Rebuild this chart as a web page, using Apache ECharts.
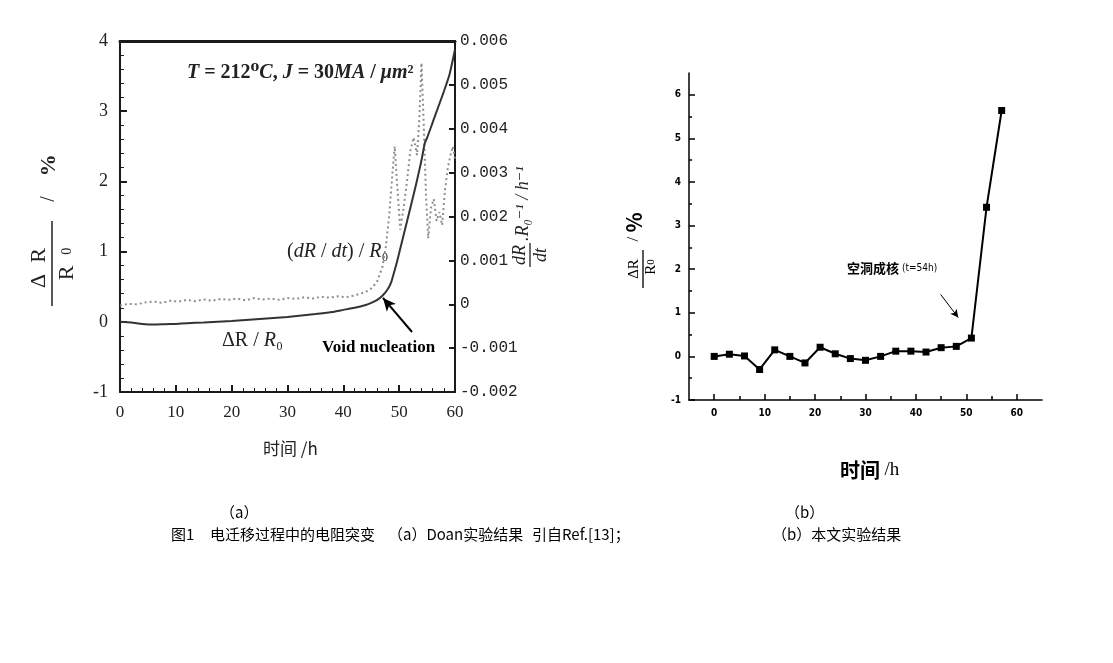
<!DOCTYPE html>
<html>
<head>
<meta charset="utf-8">
<script src="https://cdn.jsdelivr.net/npm/echarts@6/dist/echarts.min.js"></script>
<style>
html,body{margin:0;padding:0;background:#fff;}
#chart{width:1113px;height:663px;}
</style>
</head>
<body>
<div id="chart"></div>
<script>
// ---------- Panel (a): Doan data ----------
const timeA = [0,2,4,6,8,10,12,15,20,25,30,35,38,40,42,44,45,46,47,48,48.6,49,49.5,50,51,52,53,54,54.6,55,56,57,58,59,60];
const ratioA = [0,-0.01,-0.03,-0.04,-0.035,-0.03,-0.02,-0.01,0.01,0.04,0.07,0.11,0.14,0.17,0.2,0.24,0.27,0.31,0.37,0.47,0.57,0.68,0.82,0.98,1.3,1.62,1.95,2.3,2.55,2.62,2.84,3.06,3.28,3.52,3.88];
const timeRate = [0,1.5,3,4.5,6,7.5,9,10.5,12,13.5,15,16.5,18,19.5,21,22.5,24,25.5,27,28.5,30,31.5,33,34.5,36,37.5,39,40.5,42,43,44,45,46,47,47.6,48.2,48.8,49.2,49.6,50.2,50.8,51.4,52,52.6,53.2,53.6,54,54.4,54.8,55.2,55.7,56.2,56.7,57.2,57.7,58.2,58.7,59.2,59.6,60];
const rateA = [-0.00003,0.00001,0.0,0.00004,0.00006,0.00003,0.00008,0.00006,0.0001,0.00007,0.00011,0.00008,0.00012,0.0001,0.00013,0.00009,0.00014,0.00011,0.00013,0.0001,0.00014,0.00012,0.00016,0.00013,0.00017,0.00015,0.00018,0.00016,0.0002,0.00024,0.00028,0.00036,0.0005,0.00085,0.0013,0.002,0.003,0.0036,0.0028,0.0017,0.0022,0.0028,0.0035,0.0038,0.0034,0.0042,0.0055,0.0041,0.0025,0.0015,0.0022,0.0024,0.0019,0.0021,0.0018,0.0026,0.0031,0.0034,0.0036,0.0033];

// ---------- Panel (b): this work ----------
const timeB = [0,3,6,9,12,15,18,21,24,27,30,33,36,39,42,45,48,51,54,57];
const ratioB = [0,0.05,0.01,-0.3,0.15,0,-0.15,0.21,0.06,-0.05,-0.09,0,0.12,0.12,0.1,0.2,0.23,0.42,3.42,5.64];

const majorXB = [0,10,20,30,40,50,60];
const minorXB = [5,15,25,35,45,55];
const majorYB = [-1,0,1,2,3,4,5,6];
const minorYB = [-0.5,0.5,1.5,2.5,3.5,4.5,5.5];

// annotation anchors (data coordinates)
const arrowA = [[52.3,-0.145],[47.1,0.34]];
const arrowB = [[44.9,1.42],[48.4,0.89]];

const ink = '#1a1a1a';
const serif = "'Liberation Serif', 'DejaVu Serif', serif";
const cjk = "'Noto Sans CJK SC', sans-serif";
const cond = "'DejaVu Sans Condensed','DejaVu Sans',sans-serif";

const chart = echarts.init(document.getElementById('chart'));

const option = {
  animation: false,
  backgroundColor: '#ffffff',
  grid: [
    {left:120, top:41, width:335, height:351},
    {left:689, top:73, width:353, height:327}
  ],
  xAxis: [
    {gridIndex:0, type:'value', position:'bottom', min:0, max:60, interval:10,
     axisLine:{onZero:false, lineStyle:{color:ink, width:2}},
     axisTick:{inside:true, length:7, lineStyle:{color:ink, width:2}},
     minorTick:{show:true, splitNumber:5, length:4, lineStyle:{color:ink, width:1}},
     axisLabel:{margin:12, fontSize:17, fontFamily:serif, color:'#222'},
     splitLine:{show:false}},
    {gridIndex:0, type:'value', position:'top', min:0, max:60,
     axisLine:{onZero:false, lineStyle:{color:ink, width:3}},
     axisTick:{show:false}, axisLabel:{show:false}, splitLine:{show:false}},
    {gridIndex:1, type:'value', position:'bottom', min:-5, max:65,
     axisLine:{onZero:false, lineStyle:{color:'#000', width:1.5}},
     axisTick:{inside:true, length:6, customValues:majorXB, lineStyle:{color:'#000', width:1.5}},
     axisLabel:{customValues:majorXB, margin:8, fontSize:10, fontWeight:'bold', fontFamily:cond, color:'#000'},
     splitLine:{show:false}},
    {gridIndex:1, type:'value', position:'bottom', min:-5, max:65,
     axisLine:{show:false, onZero:false},
     axisTick:{inside:true, length:4, customValues:minorXB, lineStyle:{color:'#000', width:1.5}},
     axisLabel:{show:false}, splitLine:{show:false}}
  ],
  yAxis: [
    {gridIndex:0, type:'value', position:'left', min:-1, max:4, interval:1,
     axisLine:{onZero:false, lineStyle:{color:ink, width:2}},
     axisTick:{inside:true, length:7, lineStyle:{color:ink, width:2}},
     minorTick:{show:true, splitNumber:5, length:4, lineStyle:{color:ink, width:1}},
     axisLabel:{margin:12, fontSize:18, fontFamily:serif, color:'#222'},
     splitLine:{show:false}},
    {gridIndex:0, type:'value', position:'right', min:-0.002, max:0.006, interval:0.001,
     axisLine:{onZero:false, lineStyle:{color:ink, width:2}},
     axisTick:{inside:true, length:6, lineStyle:{color:ink, width:2}},
     axisLabel:{margin:5, fontSize:16, fontFamily:"'Liberation Mono','DejaVu Sans Mono',monospace", color:'#222',
       formatter: v => Math.abs(v) < 1e-9 ? '0' : v.toFixed(3)},
     splitLine:{show:false}},
    {gridIndex:1, type:'value', position:'left', min:-1, max:6.5,
     axisLine:{onZero:false, lineStyle:{color:'#000', width:1.5}},
     axisTick:{inside:true, length:6, customValues:majorYB, lineStyle:{color:'#000', width:1.5}},
     axisLabel:{customValues:majorYB, margin:8, fontSize:10, fontWeight:'bold', fontFamily:cond, color:'#000'},
     splitLine:{show:false}},
    {gridIndex:1, type:'value', position:'left', min:-1, max:6.5,
     axisLine:{show:false, onZero:false},
     axisTick:{inside:true, length:3, customValues:minorYB, lineStyle:{color:'#000', width:1.5}},
     axisLabel:{show:false}, splitLine:{show:false}}
  ],
  series: [
    {type:'line', xAxisIndex:0, yAxisIndex:0, showSymbol:false, smooth:0.2,
     data: timeA.map((t,i)=>[t, ratioA[i]]),
     lineStyle:{color:'#333', width:2}, z:3,
     markLine:{silent:true, symbol:['none','arrow'], symbolSize:[9,13],
       label:{show:false}, lineStyle:{color:'#000', width:2, type:'solid'},
       data:[[{coord:arrowA[0]},{coord:arrowA[1]}]]}},
    {type:'line', xAxisIndex:0, yAxisIndex:1, showSymbol:false,
     data: timeRate.map((t,i)=>[t, rateA[i]]),
     lineStyle:{color:'#8f8f8f', width:2, type:[2,3]}, z:2},
    {type:'line', xAxisIndex:2, yAxisIndex:2, symbol:'rect', symbolSize:7, showSymbol:true,
     data: timeB.map((t,i)=>[t, ratioB[i]]),
     itemStyle:{color:'#000'}, lineStyle:{color:'#000', width:2},
     markLine:{silent:true, symbol:['none','arrow'], symbolSize:[6,8],
       label:{show:false}, lineStyle:{color:'#000', width:1, type:'solid'},
       data:[[{coord:arrowB[0]},{coord:arrowB[1]}]]}}
  ],
  graphic: [
    // panel (a) annotations
    {type:'text', left:187, top:63, style:{
      text:'{i|T} = 212⁰{i|C}, {i|J} = 30{i|MA} / {i|μm}²',
      fill:'#222', font:'bold 20px '+serif,
      rich:{i:{fontStyle:'italic', fontSize:20, fontFamily:serif, fontWeight:'bold', fill:'#222'}}}},
    {type:'text', left:287, top:242, style:{
      text:'({i|dR} / {i|dt}) / {i|R}₀', fill:'#222', font:'20px '+serif,
      rich:{i:{fontStyle:'italic', fontSize:20, fontFamily:serif, fill:'#222'}}}},
    {type:'text', left:222, top:331, style:{
      text:'ΔR / {i|R}₀', fill:'#222', font:'20px '+serif,
      rich:{i:{fontStyle:'italic', fontSize:20, fontFamily:serif, fill:'#222'}}}},
    {type:'text', left:322, top:339, style:{text:'Void nucleation', fill:'#000', font:'bold 17px '+serif}},
    // left title (a)
    {type:'group', x:52, y:258, rotation:Math.PI/2, children:[
      {type:'line', shape:{x1:-48,y1:0,x2:37,y2:0}, style:{stroke:'#222', lineWidth:1.5}},
      {type:'text', x:-10, y:-13, style:{text:'Δ  R', fill:'#222', font:'22px '+serif, textAlign:'center', textVerticalAlign:'middle'}},
      {type:'text', x:-6, y:15, style:{text:'R  {s|0}', fill:'#222', font:'22px '+serif, textAlign:'center', textVerticalAlign:'middle',
        rich:{s:{fontSize:14, fontFamily:serif, fill:'#222'}}}},
      {type:'text', x:80, y:-3, style:{text:'/    {p|%}', fill:'#222', font:'20px '+serif, textAlign:'center', textVerticalAlign:'middle',
        rich:{p:{fontSize:22, fontWeight:'bold', fontFamily:serif, fill:'#222'}}}}
    ]},
    // right title (a)
    {type:'group', x:530, y:210, rotation:Math.PI/2, children:[
      {type:'line', shape:{x1:-57,y1:0,x2:-33,y2:0}, style:{stroke:'#222', lineWidth:1.3}},
      {type:'text', x:-45, y:-10, style:{text:'dR', fill:'#222', font:'italic 18px '+serif, textAlign:'center', textVerticalAlign:'middle'}},
      {type:'text', x:-45, y:11, style:{text:'dt', fill:'#222', font:'italic 18px '+serif, textAlign:'center', textVerticalAlign:'middle'}},
      {type:'text', x:-31, y:-7, style:{text:'.R₀⁻¹ / h⁻¹', fill:'#222', font:'italic 18px '+serif, textAlign:'left', textVerticalAlign:'middle'}}
    ]},
    {type:'text', left:263, top:440, style:{text:'时间 /h', fill:'#222', font:'17px '+cjk}},
    // panel (b) annotations
    {type:'text', left:847, top:262, style:{text:'空洞成核 {s|(t=54h)}', fill:'#000', font:'bold 13px '+cjk,
      rich:{s:{fontSize:10, fontFamily:cond, fill:'#000'}}}},
    {type:'group', x:643, y:269, rotation:Math.PI/2, children:[
      {type:'line', shape:{x1:-19,y1:0,x2:19,y2:0}, style:{stroke:'#000', lineWidth:1.3}},
      {type:'text', x:0, y:-9, style:{text:'ΔR', fill:'#000', font:'15px '+serif, textAlign:'center', textVerticalAlign:'middle'}},
      {type:'text', x:2, y:8, style:{text:'R{s|0}', fill:'#000', font:'15px '+serif, textAlign:'center', textVerticalAlign:'middle',
        rich:{s:{fontSize:11, fontFamily:serif, fill:'#000'}}}},
      {type:'text', x:42, y:-9, style:{text:'/ {p|%}', fill:'#000', font:'17px '+serif, textAlign:'center', textVerticalAlign:'middle',
        rich:{p:{fontSize:21, fontWeight:'bold', fontFamily:cjk, fill:'#000'}}}}
    ]},
    {type:'text', left:840, top:460, style:{text:'时间 {s|/h}', fill:'#000', font:'bold 20px '+cjk,
      rich:{s:{fontSize:19, fontWeight:'normal', fontFamily:serif, fill:'#000'}}}},
    // captions
    {type:'text', left:220, top:505, style:{text:'（a）', fill:'#000', font:'15px '+cjk}},
    {type:'text', left:785, top:505, style:{text:'（b）', fill:'#000', font:'15px '+cjk}},
    {type:'text', left:171, top:527, style:{text:'图1', fill:'#000', font:'15px '+cjk}},
    {type:'text', left:210, top:527, style:{text:'电迁移过程中的电阻突变', fill:'#000', font:'15px '+cjk}},
    {type:'text', left:388, top:527, style:{text:'（a）Doan实验结果', fill:'#000', font:'15px '+cjk}},
    {type:'text', left:532, top:527, style:{text:'引自Ref.[13]；', fill:'#000', font:'15px '+cjk}},
    {type:'text', left:772, top:527, style:{text:'（b）本文实验结果', fill:'#000', font:'15px '+cjk}}
  ]
};
chart.setOption(option);
</script>
</body>
</html>
